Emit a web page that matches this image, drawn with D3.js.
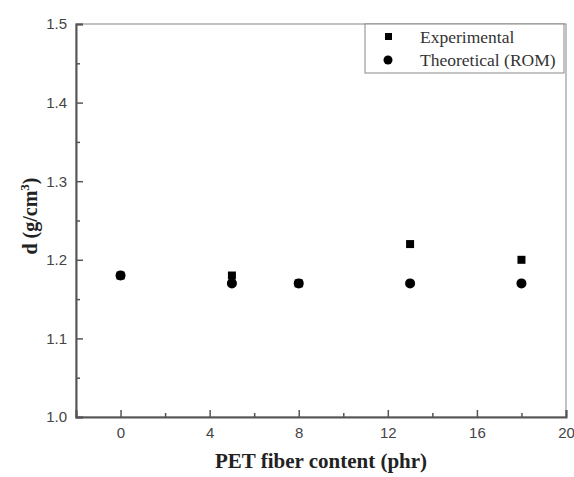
<!DOCTYPE html>
<html>
<head>
<meta charset="utf-8">
<script src="https://cdn.jsdelivr.net/npm/d3@7"></script>
<style>
body { margin: 0; background: #fff; }
</style>
</head>
<body>
<div id="chart"></div>
<script>
// data
var fiberContent = [0, 5, 8, 13, 18];
var experimental = [1.18, 1.18, 1.17, 1.22, 1.20];
var theoretical = [1.18, 1.17, 1.17, 1.17, 1.17];
var xTicks = [0, 4, 8, 12, 16, 20];
var yTicks = [1.0, 1.1, 1.2, 1.3, 1.4, 1.5];
var legendLabels = ["Experimental", "Theoretical (ROM)"];

var width = 574, height = 477;
var plotLeft = 76, plotRight = 566, plotTop = 24, plotBottom = 417;

var svg = d3.select("#chart").append("svg")
	.attr("width", width)
	.attr("height", height);

var x = d3.scaleLinear().domain([-2, 20]).range([plotLeft, plotRight]);
var y = d3.scaleLinear().domain([1.0, 1.5]).range([plotBottom, plotTop]);

var axisColor = "#555";
var tickFont = "Liberation Sans, Arial, sans-serif";

// frame
svg.append("rect")
	.attr("x", plotLeft).attr("y", plotTop)
	.attr("width", plotRight-plotLeft).attr("height", plotBottom-plotTop)
	.attr("fill", "none").attr("stroke", "#999").attr("stroke-width", 1.2);

// bottom axis, inward ticks
var xAxis = svg.append("g")
	.attr("transform", "translate(0,"+plotBottom+")")
	.call(d3.axisBottom(x).tickValues(xTicks).tickSize(-7).tickPadding(10).tickFormat(d3.format("d")));
xAxis.selectAll("line").attr("stroke", axisColor).attr("stroke-width", 1.5);
xAxis.selectAll("text").attr("font-family", tickFont).attr("font-size", 15).attr("fill", "#444");
xAxis.select(".domain").attr("stroke", axisColor).attr("stroke-width", 2);
svg.append("g")
	.attr("transform", "translate(0,"+plotBottom+")")
	.call(d3.axisBottom(x).tickValues([-2, 2, 6, 10, 14, 18]).tickSize(-4).tickFormat(""))
	.call(function(g){ g.select(".domain").remove(); g.selectAll("line").attr("stroke", axisColor).attr("stroke-width", 1.5); });

// left axis, inward ticks
var yAxis = svg.append("g")
	.attr("transform", "translate("+plotLeft+",0)")
	.call(d3.axisLeft(y).tickValues(yTicks).tickSize(-7).tickPadding(9).tickFormat(d3.format(".1f")));
yAxis.selectAll("line").attr("stroke", axisColor).attr("stroke-width", 1.5);
yAxis.selectAll("text").attr("font-family", tickFont).attr("font-size", 15).attr("fill", "#444");
yAxis.select(".domain").attr("stroke", axisColor).attr("stroke-width", 2);
svg.append("g")
	.attr("transform", "translate("+plotLeft+",0)")
	.call(d3.axisLeft(y).tickValues([1.05, 1.15, 1.25, 1.35, 1.45]).tickSize(-4).tickFormat(""))
	.call(function(g){ g.select(".domain").remove(); g.selectAll("line").attr("stroke", axisColor).attr("stroke-width", 1.5); });

// points
svg.append("g").selectAll("circle")
	.data(fiberContent)
	.enter().append("circle")
	.attr("cx", function(d){ return x(d); })
	.attr("cy", function(d, i){ return y(theoretical[i]); })
	.attr("r", 5)
	.attr("fill", "#000");

svg.append("g").selectAll("rect")
	.data(fiberContent)
	.enter().append("rect")
	.attr("x", function(d){ return x(d)-4; })
	.attr("y", function(d, i){ return y(experimental[i])-4; })
	.attr("width", 8).attr("height", 8)
	.attr("fill", "#000");

// legend
var legend = svg.append("g");
legend.append("rect")
	.attr("x", 365).attr("y", 24)
	.attr("width", 199).attr("height", 49)
	.attr("fill", "#fff").attr("stroke", "#888").attr("stroke-width", 1);
legend.append("rect")
	.attr("x", 385).attr("y", 33).attr("width", 7).attr("height", 7).attr("fill", "#000");
legend.append("circle")
	.attr("cx", 388).attr("cy", 60).attr("r", 4.5).attr("fill", "#000");
legend.selectAll("text.lab")
	.data(legendLabels)
	.enter().append("text")
	.attr("class", "lab")
	.attr("x", 420)
	.attr("y", function(d, i){ return 43 + i*23; })
	.attr("font-family", "Liberation Serif, Times New Roman, serif")
	.attr("font-size", 17.5)
	.attr("fill", "#333")
	.text(function(d){ return d; });

// axis titles
svg.append("text")
	.attr("x", 321).attr("y", 468)
	.attr("text-anchor", "middle")
	.attr("font-family", "Liberation Serif, Times New Roman, serif")
	.attr("font-weight", "bold").attr("font-size", 21)
	.attr("fill", "#222")
	.text("PET fiber content (phr)");

var yt = svg.append("text")
	.attr("transform", "translate(37,216) rotate(-90)")
	.attr("text-anchor", "middle")
	.attr("font-family", "Liberation Serif, Times New Roman, serif")
	.attr("font-weight", "bold").attr("font-size", 20)
	.attr("fill", "#222");
yt.append("tspan").text("d (g/cm");
yt.append("tspan").attr("dy", -8).attr("font-size", 13).text("3");
yt.append("tspan").attr("dy", 8).text(")");
</script>
</body>
</html>
